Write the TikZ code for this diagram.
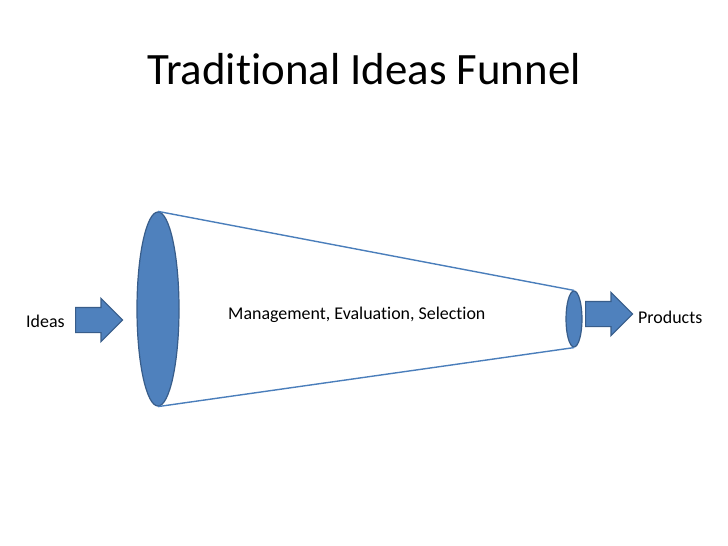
\documentclass[tikz,border=0pt]{standalone}
\usepackage{fontspec}
\setmainfont[Ligatures=NoCommon]{Carlito}
\usetikzlibrary{shapes.geometric}
\usetikzlibrary{shapes.arrows}
\definecolor{funnelblue}{HTML}{4F81BD}
\definecolor{funneledge}{HTML}{385D8A}
\definecolor{funnelline}{HTML}{4A7EBB}

\begin{document}
\begin{tikzpicture}[x=1bp,y=-1bp]
	\useasboundingbox (0,0) rectangle (728,546);
	\fill[white] (0,0) rectangle (728,546);
	\begin{scope}[every node/.style={ellipse,draw=funneledge,fill=funnelblue,line width=1.2bp,inner sep=0pt}]
		\node[minimum width=42bp,minimum height=194bp] (wide) at (158,309) {};
		\node[minimum width=16bp,minimum height=56bp] (narrow) at (574,319) {};
	\end{scope}

	\begin{scope}[every node/.style={single arrow,draw=funneledge,fill=funnelblue,line width=1.2bp,anchor=tail,
	              minimum height=47bp,single arrow head extend=9bp,inner xsep=0pt,inner ysep=12bp}]
		\node (inarrow) at (75,320) {};
		\node (outarrow) at (585,314) {};
	\end{scope}

	\draw[funnelline,line width=1.4bp] (wide.north) -- (narrow.north);
	\draw[funnelline,line width=1.4bp] (wide.south) -- (narrow.south);

	\node[anchor=base] (title) at (364,85) {\fontsize{45}{48}\selectfont Traditional Ideas Funnel};
	\node[anchor=west,inner sep=0pt] (ideas) at (26,321) {\fontsize{18}{20}\selectfont Ideas};
	\node[anchor=west,inner sep=0pt] (products) at (638,317) {\fontsize{18}{20}\selectfont Products};
	\node[anchor=west,inner sep=0pt] (stages) at (228,315) {\fontsize{18}{20}\selectfont Management, Evaluation, Selection};
\end{tikzpicture}
\end{document}
